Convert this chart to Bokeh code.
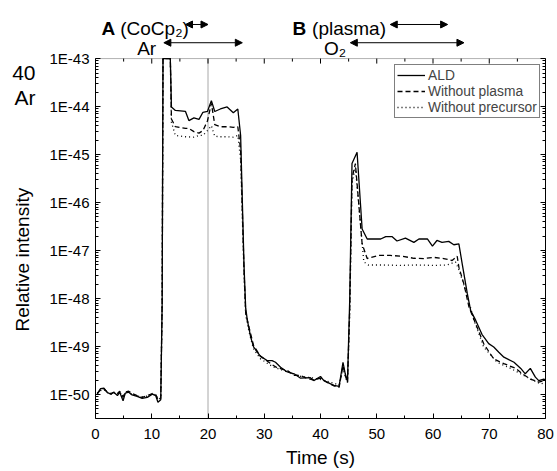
import math
from bokeh.plotting import figure
from bokeh.models import (Range1d, FixedTicker, LogAxis, Legend, LegendItem, Label, Arrow, NormalHead,
                          CustomJSTickFormatter, BoxAnnotation)
from bokeh.embed import file_html
from bokeh.resources import INLINE

FONT = "Liberation Sans"

# ---------------- data (time in s, relative intensity) ----------------
# the spike at ~12-13 s runs off the top of the axis (clipped at 1E-43)
t_ald = [0.3, 0.9, 1.5, 2.1, 2.7, 3.3, 3.9, 4.3, 4.9, 5.3, 5.9, 6.5, 7.4, 8.3, 9.2, 10.1, 10.7, 11.1, 11.6,
         11.85, 12.0, 13.3, 13.5, 14.2, 16.0, 16.6, 17.5, 18.4, 19.1, 19.9, 20.6, 21.2, 22.2, 23.4, 24.5, 25.3,
         25.8, 26.4, 26.7, 27.0, 27.6, 28.1, 29.3, 30.5, 31.4, 32.0, 32.9, 34.1, 35.3, 36.4, 38.2, 38.8, 40.0,
         40.6, 41.8, 42.4, 43.3, 44.0, 44.4, 44.8, 45.2, 45.6, 46.5, 47.4, 48.3, 49.5, 50.7, 51.6, 52.7, 53.6,
         55.1, 56.6, 57.5, 59.0, 59.9, 60.7, 61.6, 62.8, 63.7, 64.6, 65.2, 66.1, 66.7, 67.6, 68.7, 69.9, 70.8,
         71.7, 72.6, 74.4, 75.6, 76.4, 77.3, 78.2, 78.8, 79.7, 80.0]
v_ald = [1.02e-50, 1.32e-50, 1.35e-50, 1.10e-50, 1.02e-50, 1.10e-50, 9.5e-51, 1.12e-50, 7.4e-51, 1.07e-50,
         1.12e-50, 9.8e-51, 9.1e-51, 8.3e-51, 8.7e-51, 1.02e-50, 9.5e-51, 6.9e-51, 7.8e-51,
         7.9e-49, 1e-43, 1e-43, 9.8e-45, 8.3e-45, 7.9e-45, 5.1e-45, 5.8e-45, 5.4e-45, 7.6e-45, 7.9e-45,
         1.33e-44, 7.9e-45, 8.9e-45, 9.8e-45, 7.4e-45, 8.9e-45,
         2.5e-45, 5.0e-48, 6.3e-49, 3.5e-49, 1.55e-49, 9.8e-50, 6.3e-50, 5.1e-50, 5.1e-50, 4.7e-50, 3.7e-50,
         2.95e-50, 2.7e-50, 2.2e-50, 2.24e-50, 1.95e-50, 2.37e-50, 1.95e-50, 1.66e-50, 1.55e-50, 1.48e-50,
         4.7e-50, 2.7e-50, 1.9e-50, 1.0e-48, 6.5e-46, 1.12e-45, 2.8e-47, 1.74e-47, 1.74e-47, 1.74e-47,
         1.95e-47, 1.95e-47, 1.58e-47, 1.82e-47, 1.48e-47, 1.74e-47, 1.74e-47, 1.23e-47, 1.62e-47, 1.48e-47,
         1.55e-47, 1.32e-47, 1.38e-47, 5.2e-48, 1.26e-48, 5.6e-49, 3.5e-49, 1.8e-49, 1.15e-49, 9.8e-50,
         7.6e-50, 6.0e-50, 4.7e-50, 3.5e-50, 2.7e-50, 3.5e-50, 2.3e-50, 1.95e-50, 2.1e-50, 1.95e-50]

t_np = [0.3, 0.9, 1.5, 2.1, 2.7, 3.3, 3.9, 4.3, 4.9, 5.3, 5.9, 6.5, 7.4, 8.3, 9.2, 10.1, 10.7, 11.1, 11.6,
        11.85, 12.0, 13.3, 13.5, 14.2, 16.0, 16.6, 17.5, 18.4, 19.1, 19.9, 20.6, 21.2, 22.2, 23.4, 24.5, 25.3,
        25.8, 26.4, 26.7, 27.3, 28.1, 29.3, 30.5, 31.4, 32.3, 34.1, 35.3, 36.4, 37.5, 38.8, 40.0, 41.2, 42.4,
        43.3, 44.0, 44.4, 44.8, 45.2, 45.6, 46.2, 47.4, 48.3, 50.4, 52.4, 54.5, 56.6, 58.4, 60.1, 61.9, 63.4,
        64.3, 64.6, 65.5, 66.4, 67.6, 69.0, 70.8, 72.6, 74.7, 75.9, 77.3, 78.8, 80.0]
v_np = [1.05e-50, 1.26e-50, 1.32e-50, 1.12e-50, 1.05e-50, 1.12e-50, 1.05e-50, 1.17e-50, 8.9e-51, 1.12e-50,
        1.17e-50, 1.05e-50, 9.5e-51, 8.7e-51, 9.5e-51, 1.05e-50, 1.0e-50, 7.9e-51, 8.3e-51,
        7.9e-49, 1e-43, 1e-43, 5.5e-45, 3.8e-45, 3.5e-45, 3.5e-45, 3.0e-45, 2.8e-45, 3.16e-45, 5.0e-45,
        1.17e-44, 4.2e-45, 3.8e-45, 3.8e-45, 3.7e-45, 3.8e-45,
        1.26e-45, 4.0e-48, 5.0e-49, 2.5e-49, 1.05e-49, 6.3e-50, 5.0e-50, 4.2e-50, 3.6e-50, 3.16e-50, 2.5e-50,
        2.5e-50, 2.2e-50, 2.0e-50, 2.2e-50, 1.78e-50, 1.51e-50, 1.41e-50, 4.0e-50, 2.5e-50, 1.78e-50, 6.3e-49,
        3.16e-46, 6.5e-46, 1.38e-47, 6.8e-48, 7.9e-48, 7.9e-48, 7.6e-48, 6.9e-48, 6.8e-48, 7.2e-48, 6.8e-48,
        6.2e-48, 7.6e-48, 4.5e-48, 2.0e-48, 6.6e-49, 2.95e-49, 1.15e-49, 5.5e-50, 4.4e-50, 3.5e-50, 2.7e-50,
        2.1e-50, 1.82e-50, 1.95e-50]

t_npre = [0.3, 0.9, 1.5, 2.1, 2.7, 3.3, 3.9, 4.3, 4.9, 5.3, 5.9, 6.5, 7.4, 8.3, 9.2, 10.1, 10.7, 11.1, 11.6,
          11.85, 12.0, 13.3, 13.5, 14.2, 16.0, 17.5, 18.4, 19.1, 19.9, 20.6, 21.2, 22.2, 23.4, 24.5, 25.3,
          25.8, 26.4, 26.7, 27.3, 28.1, 29.3, 30.5, 31.7, 34.0, 36.4, 38.8, 41.2, 43.3, 44.0, 44.4, 44.8,
          45.2, 45.6, 46.2, 47.7, 48.5, 51.0, 54.0, 57.0, 60.0, 62.5, 64.0, 64.6, 65.8, 67.3, 69.0, 71.4,
          73.8, 76.7, 79.1, 80.0]
v_npre = [1.07e-50, 1.2e-50, 1.26e-50, 1.1e-50, 1.0e-50, 1.07e-50, 1.0e-50, 1.12e-50, 8.7e-51, 1.1e-50,
          1.12e-50, 1.0e-50, 9.3e-51, 8.9e-51, 9.3e-51, 1.02e-50, 9.8e-51, 8.1e-51, 8.3e-51,
          7.9e-49, 1e-43, 1e-43, 4.7e-45, 2.5e-45, 2.35e-45, 2.3e-45, 2.5e-45, 2.5e-45, 3.16e-45, 4.0e-45,
          2.4e-45, 2.35e-45, 2.35e-45, 2.3e-45, 2.5e-45,
          7.9e-46, 3.16e-48, 4.5e-49, 2.0e-49, 8.9e-50, 5.6e-50, 4.5e-50, 3.7e-50, 3.0e-50, 2.4e-50, 2.2e-50,
          1.9e-50, 1.58e-50, 3.5e-50, 2.4e-50, 1.78e-50,
          5.0e-49, 2.5e-46, 5.5e-46, 5.8e-48, 5.0e-48, 5.0e-48, 4.9e-48, 5.0e-48, 4.9e-48, 5.0e-48, 5.8e-48,
          4.0e-48, 1.48e-48, 3.5e-49, 9.8e-50, 4.7e-50, 3.5e-50, 2.3e-50, 1.66e-50, 1.78e-50]

series_names = ["ALD", "Without plasma", "Without precursor"]

x_ticks = [0, 10, 20, 30, 40, 50, 60, 70, 80]
x_minor = [5, 15, 25, 35, 45, 55, 65, 75]
y_exponents = [-50, -49, -48, -47, -46, -45, -44, -43]
y_bottom, y_top = 10**-50.5, 1e-43          # axis box
header_top = 10**-41.79                    # room above the box for the step annotations

marker_time = 20  # thin grey vertical line

# step annotations above the box (time, intensity)
ann_text = ["A", "(CoCp₂)", "Ar", "B", "(plasma)", "O₂"]
ann_x = [1.07, 4.4, 7.4, 35.0, 38.5, 40.6]
ann_y = [10**-42.375, 10**-42.375, 10**-42.80, 10**-42.375, 10**-42.375, 10**-42.80]
ann_bold = [True, False, False, True, False, False]
arrow_x0 = [16.0, 12.15, 52.4, 45.3]
arrow_x1 = [20.0, 26.1, 62.6, 65.5]
arrow_y = [10**-42.29, 10**-42.67, 10**-42.29, 10**-42.67]
# isotope label left of the axis, at these heights
iso_text = ["40", "Ar"]
iso_y = [10**-43.29, 10**-43.81]

y_title = "Relative intensity"
# the title sits lower than the middle of the axis: pad its upper end with no-break spaces
y_title_pad = "\u00a0" * 19

# ---------------- figure ----------------
p = figure(width=557, height=471, x_range=Range1d(0, 80), y_range=Range1d(y_bottom, header_top),
           y_axis_type="log", output_backend="svg", toolbar_location=None,
           min_border_left=95, min_border_right=12, min_border_top=0, min_border_bottom=53)
p.xgrid.visible = False
p.ygrid.visible = False
p.outline_line_color = None
p.background_fill_color = "white"
p.border_fill_color = "white"

xticker = FixedTicker(ticks=x_ticks, minor_ticks=x_minor)
y_major = [10.0**e for e in y_exponents]
y_minor = [m * 10.0**e for e in range(-51, -43) for m in range(2, 10)]
yticker = FixedTicker(ticks=y_major, minor_ticks=y_minor)

def style_axis(ax):
    ax.axis_line_color = "black"
    ax.major_tick_line_color = "black"
    ax.minor_tick_line_color = "black"
    ax.major_tick_in = 5
    ax.major_tick_out = 0
    ax.minor_tick_in = 3
    ax.minor_tick_out = 0
    ax.major_label_text_font = FONT
    ax.major_label_text_font_size = "15px"
    ax.major_label_text_color = "black"
    ax.axis_label_text_font = FONT
    ax.axis_label_text_font_size = "19px"
    ax.axis_label_text_font_style = "normal"
    ax.axis_label_text_color = "black"

xa = p.xaxis[0]
xa.ticker = xticker
xa.axis_label = "Time (s)"
style_axis(xa)
xa.major_label_standoff = 10
xa.axis_label_standoff = 5

ya = p.yaxis[0]
ya.ticker = yticker
ya.bounds = (y_bottom, y_top)
ya.formatter = CustomJSTickFormatter(code="return '1E' + Math.round(Math.log10(tick));")
ya.axis_label = None
style_axis(ya)
ya.major_label_standoff = 6

# axis that only carries the y title
title_ax = LogAxis(ticker=FixedTicker(ticks=[]), axis_label=y_title + y_title_pad)
style_axis(title_ax)
title_ax.axis_line_color = None
title_ax.axis_label_standoff = 14
p.add_layout(title_ax, "left")

# axis that only carries the isotope label (labels pulled back over the title column)
iso_ax = LogAxis(ticker=FixedTicker(ticks=sorted(iso_y)),
                 formatter=CustomJSTickFormatter(args=dict(ys=iso_y, names=iso_text), code="""
                     let best = 0;
                     for (let i = 0; i < ys.length; i++) {
                       if (Math.abs(Math.log10(ys[i]) - Math.log10(tick)) <
                           Math.abs(Math.log10(ys[best]) - Math.log10(tick))) best = i;
                     }
                     return names[best];"""))
style_axis(iso_ax)
iso_ax.axis_line_color = None
iso_ax.major_tick_line_color = None
iso_ax.minor_tick_line_color = None
iso_ax.major_tick_in = 0
iso_ax.minor_tick_in = 0
iso_ax.major_label_text_font_size = "21px"
iso_ax.major_label_standoff = -27
p.add_layout(iso_ax, "left")

right = LogAxis(ticker=yticker, formatter=CustomJSTickFormatter(code="return '';"), bounds=(y_bottom, y_top))
style_axis(right)
right.major_label_text_font_size = "0px"
right.major_label_standoff = 0
p.add_layout(right, "right")

# box top edge and inward top ticks
p.add_layout(BoxAnnotation(left=0, right=80, bottom=y_bottom, top=y_top, fill_alpha=0,
                           line_color="black", line_width=1, level="overlay"))
p.ray(x=x_ticks, y=[y_top] * len(x_ticks), length=5, length_units="screen", angle=-math.pi / 2,
      line_color="black", line_width=1)
p.ray(x=x_minor, y=[y_top] * len(x_minor), length=3, length_units="screen", angle=-math.pi / 2,
      line_color="black", line_width=1)

p.segment(x0=[marker_time], y0=[y_bottom], x1=[marker_time], y1=[y_top], line_color="#a8a8a8",
          line_width=1, level="underlay")

r3 = p.line(t_npre, v_npre, line_color="black", line_width=1.3, line_dash="1 3")
r2 = p.line(t_np, v_np, line_color="black", line_width=1.3, line_dash="5 3")
r1 = p.line(t_ald, v_ald, line_color="black", line_width=1.3)

legend = Legend(items=[LegendItem(label=series_names[0], renderers=[r1]),
                       LegendItem(label=series_names[1], renderers=[r2]),
                       LegendItem(label=series_names[2], renderers=[r3])],
                location=(299, 300), margin=0, padding=2, spacing=0,
                glyph_width=28, glyph_height=16, label_height=16, label_standoff=3,
                label_text_font=FONT, label_text_font_size="13.8px",
                border_line_color="black", border_line_width=1,
                background_fill_color="white", background_fill_alpha=1)
p.add_layout(legend)

for txt, x, y, b in zip(ann_text, ann_x, ann_y, ann_bold):
    p.add_layout(Label(x=x, y=y, text=txt, text_font=FONT, text_font_size="19px",
                       text_font_style="bold" if b else "normal", text_color="black",
                       text_baseline="alphabetic", text_align="left"))

for x0, x1, y in zip(arrow_x0, arrow_x1, arrow_y):
    p.add_layout(Arrow(x_start=x0, y_start=y, x_end=x1, y_end=y, line_color="black", line_width=1,
                       start=NormalHead(size=7, fill_color="black", line_color="black", line_width=1),
                       end=NormalHead(size=7, fill_color="black", line_color="black", line_width=1)))

open("out.html", "w").write(file_html(p, INLINE))
